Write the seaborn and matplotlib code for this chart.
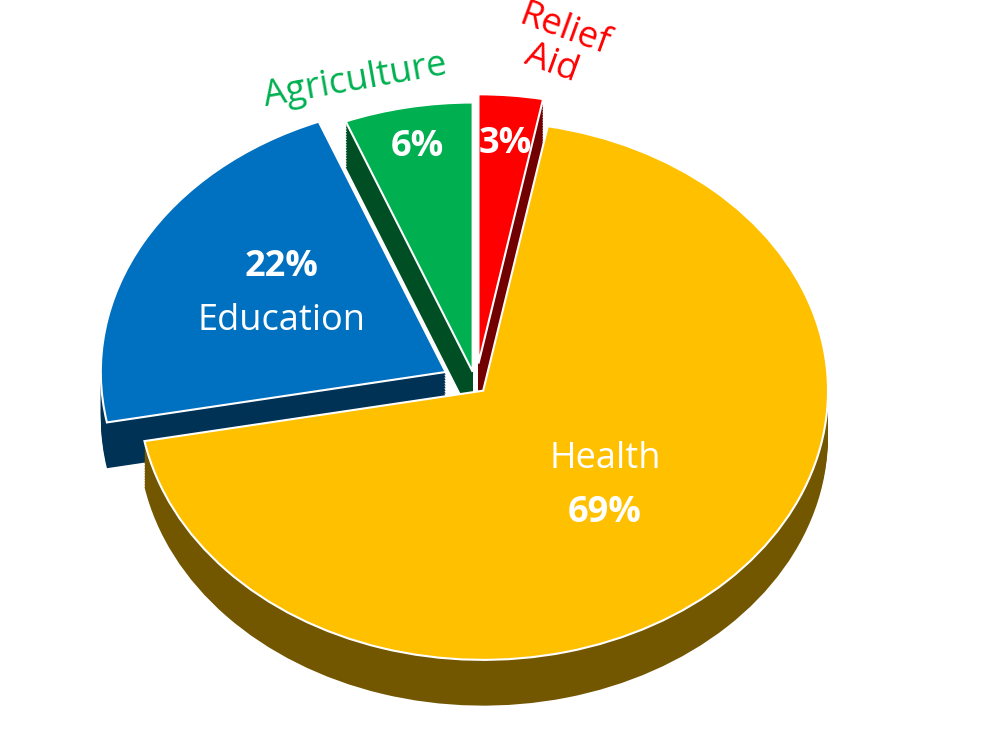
import numpy as np
import matplotlib
matplotlib.use("Agg")
import matplotlib.pyplot as plt
import seaborn as sns
from matplotlib.colors import to_rgb

sns.set_theme(style="white")
plt.rcParams['font.family'] = ['Open Sans', 'DejaVu Sans']

labels = ["Relief\nAid", "Health", "Education", "Agriculture"]
values = [3, 69, 22, 6]
colors = ["#FF0000", "#FFC000", "#0070C0", "#00B050"]
explode = [0.08, 0.03, 0.10, 0.05]

fig = plt.figure(figsize=(10, 7.43), dpi=100)
ax = fig.add_axes([0, 0, 1, 1])

def dark(c, f):
    r, g, b = to_rgb(c)
    return (r * f, g * f, b * f)

depths = np.linspace(0.17, 0.0, 18)
for i, d in enumerate(depths):
    cols = [dark(c, 0.45) for c in colors] if d > 0 else colors
    ax.pie(values, colors=cols, explode=explode, startangle=90, counterclock=False,
           center=(0, -d), radius=1.0, frame=True,
           wedgeprops=dict(linewidth=0 if d > 0 else 1.5, edgecolor="white"))
ax.set_xlim(-1.38, 1.52)
ax.set_ylim(-1.33, 1.43)
ax.set_aspect("auto")
ax.axis("off")

cum = np.cumsum([0] + values)
mids = 90 - (cum[:-1] + np.array(values) / 2) / 100 * 360
inside_r = [0.82, 0.5, 0.6, 0.85]
for i, (lab, v, a) in enumerate(zip(labels, values, mids)):
    rad = np.deg2rad(a)
    r = inside_r[i] + explode[i]
    x, y = r * np.cos(rad), r * np.sin(rad)
    if i == 1:
        ax.text(x, y + 0.1, lab, ha="center", va="center", color="white", fontsize=26)
        ax.text(x, y - 0.1, f"{v}%", ha="center", va="center", color="white", fontsize=26, fontweight="bold")
    elif i == 2:
        ax.text(x + 0.05, y + 0.1, f"{v}%", ha="center", va="center", color="white", fontsize=26, fontweight="bold")
        ax.text(x + 0.05, y - 0.1, lab, ha="center", va="center", color="white", fontsize=26)
    else:
        ax.text(x, y, f"{v}%", ha="center", va="center", color="white", fontsize=26, fontweight="bold")
        ro = 1.18 + explode[i]
        xo, yo = ro * np.cos(rad), ro * np.sin(rad)
        rot = -20 if i == 0 else 10
        ax.text(xo + (0.12 if i == 0 else -0.12), yo + (0.0 if i == 0 else -0.08), lab,
                ha="center", va="center", color=colors[i], fontsize=26, rotation=rot,
                linespacing=1.0)

fig.savefig("out.png", dpi=100)
